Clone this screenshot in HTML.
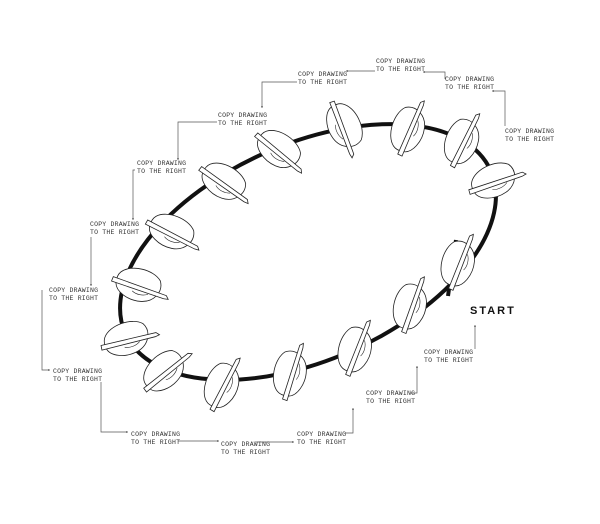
<!DOCTYPE html>
<html><head><meta charset="utf-8"><style>
html,body{margin:0;padding:0;background:#fff;}
svg{display:block}
.l{font-family:"Liberation Mono",monospace;font-size:6.5px;fill:#333;letter-spacing:0.2px}
.c{fill:none;stroke:#555;stroke-width:0.7}
</style></head><body>
<svg width="600" height="524" viewBox="0 0 600 524" xmlns="http://www.w3.org/2000/svg">
<defs>
<symbol id="h" overflow="visible">
<path d="M-18,-9 C-10,-17 10,-15 17,-6 C21,3 14,13 3,14 C-9,15 -21,8 -21,0 C-21,-4 -20,-7 -18,-9 Z" fill="#fff" stroke="#222" stroke-width="0.7"/>
<path d="M-24,-4 L24,6 L26,9 L22,9 L-25,0 Z" fill="#fff" stroke="#222" stroke-width="0.7"/>
<path d="M-6,6 C-2,9 4,9 8,7" fill="none" stroke="#222" stroke-width="0.5"/>
</symbol>
<marker id="a" markerWidth="4" markerHeight="4" refX="3" refY="2" orient="auto"><path d="M0,0.5 L3,2 L0,3.5 Z" fill="#555"/></marker>
</defs>
<ellipse cx="308" cy="252" rx="200" ry="108" transform="rotate(-24 308 252)" fill="none" stroke="#111" stroke-width="4"/>
<line x1="456" y1="240" x2="448" y2="296" stroke="#111" stroke-width="4"/>
<g transform="translate(0,0)">
<use href="#h" transform="translate(458,262) rotate(-80) scale(1.15)"/>
<use href="#h" transform="translate(410,305) rotate(-82) scale(1.15)"/>
<use href="#h" transform="translate(355,348) rotate(-80) scale(1.15)"/>
<use href="#h" transform="translate(290,372) rotate(-84) scale(1.15)"/>
<use href="#h" transform="translate(222,384) rotate(-74) scale(1.15)"/>
<use href="#h" transform="translate(165,370) rotate(-50) scale(1.15)"/>
<use href="#h" transform="translate(128,338) rotate(-25) scale(1.15)"/>
<use href="#h" transform="translate(140,285) rotate(8) scale(1.15)"/>
<use href="#h" transform="translate(173,232) rotate(16) scale(1.15)"/>
<use href="#h" transform="translate(225,182) rotate(24) scale(1.15)"/>
<use href="#h" transform="translate(280,150) rotate(28) scale(1.15)"/>
<use href="#h" transform="translate(345,127) rotate(58) scale(1.15)"/>
<use href="#h" transform="translate(408,128) rotate(-78) scale(1.15)"/>
<use href="#h" transform="translate(462,140) rotate(-75) scale(1.15)"/>
<use href="#h" transform="translate(495,180) rotate(-30) scale(1.15)"/>
</g>
<text x="470" y="314" font-family="Liberation Sans,sans-serif" font-weight="bold" font-size="11" letter-spacing="2" fill="#111">START</text>
<g class="l">
<text x="376" y="63">COPY DRAWING</text><text x="376" y="71">TO THE RIGHT</text>
<text x="298" y="76">COPY DRAWING</text><text x="298" y="84">TO THE RIGHT</text>
<text x="218" y="117">COPY DRAWING</text><text x="218" y="125">TO THE RIGHT</text>
<text x="137" y="165">COPY DRAWING</text><text x="137" y="173">TO THE RIGHT</text>
<text x="90" y="226">COPY DRAWING</text><text x="90" y="234">TO THE RIGHT</text>
<text x="49" y="292">COPY DRAWING</text><text x="49" y="300">TO THE RIGHT</text>
<text x="53" y="373">COPY DRAWING</text><text x="53" y="381">TO THE RIGHT</text>
<text x="131" y="436">COPY DRAWING</text><text x="131" y="444">TO THE RIGHT</text>
<text x="221" y="446">COPY DRAWING</text><text x="221" y="454">TO THE RIGHT</text>
<text x="297" y="436">COPY DRAWING</text><text x="297" y="444">TO THE RIGHT</text>
<text x="366" y="395">COPY DRAWING</text><text x="366" y="403">TO THE RIGHT</text>
<text x="424" y="354">COPY DRAWING</text><text x="424" y="362">TO THE RIGHT</text>
<text x="445" y="81">COPY DRAWING</text><text x="445" y="89">TO THE RIGHT</text>
<text x="505" y="133">COPY DRAWING</text><text x="505" y="141">TO THE RIGHT</text>
</g>
<g class="c">
<polyline points="475,349 475,325" marker-end="url(#a)"/>
<polyline points="410,393 417,393 417,366" marker-end="url(#a)"/>
<polyline points="345,433 353,433 353,408" marker-end="url(#a)"/>
<polyline points="255,442 294,442" marker-end="url(#a)"/>
<polyline points="178,441 219,441" marker-end="url(#a)"/>
<polyline points="101,382 101,432 128,432" marker-end="url(#a)"/>
<polyline points="42,290 42,370 50,370" marker-end="url(#a)"/>
<polyline points="91,237 91,286" marker-end="url(#a)"/>
<polyline points="135,170 133,170 133,220" marker-end="url(#a)"/>
<polyline points="217,122 178,122 178,160" marker-end="url(#a)"/>
<polyline points="297,82 262,82 262,108" marker-end="url(#a)"/>
<polyline points="375,71 346,71" marker-end="url(#a)"/>
<polyline points="445,79 445,72 423,72" marker-end="url(#a)"/>
<polyline points="505,126 505,91 492,91" marker-end="url(#a)"/>
</g>
</svg>
</body></html>
